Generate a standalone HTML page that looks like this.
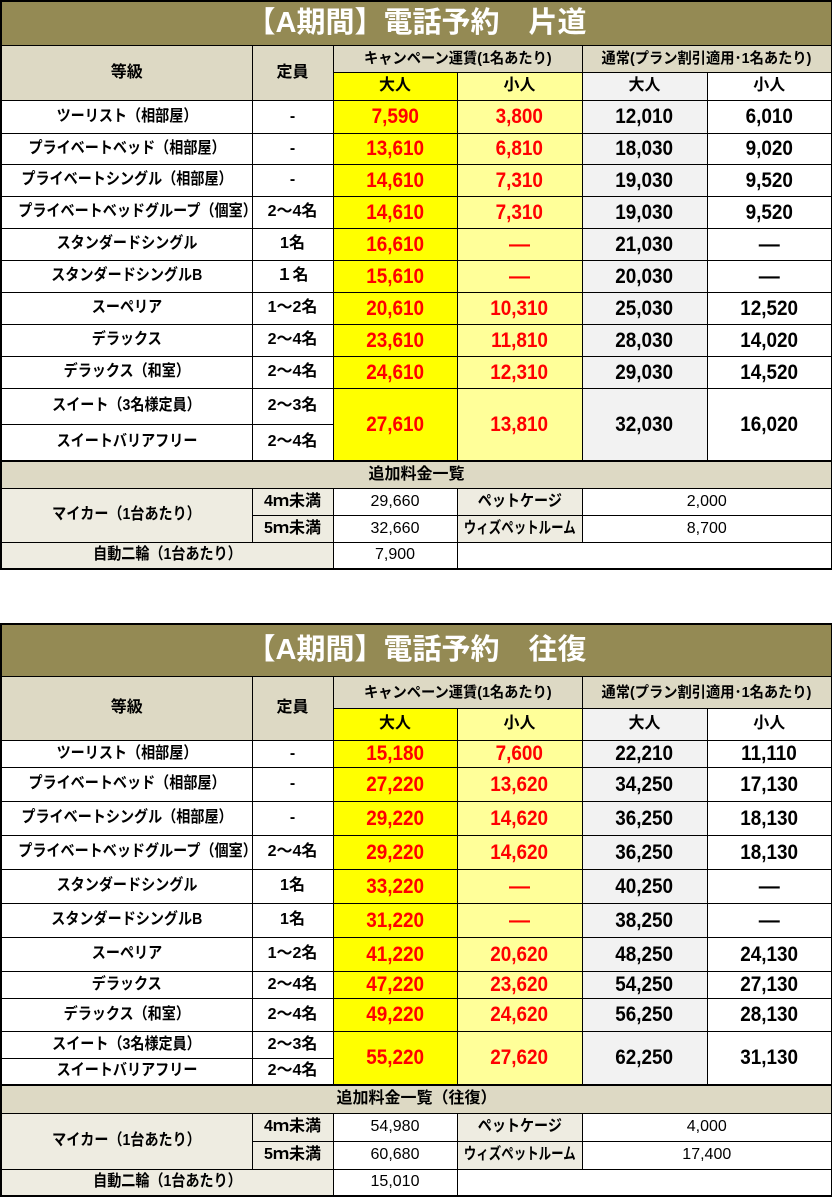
<!DOCTYPE html>
<html><head><meta charset="utf-8">
<style>
body{margin:0;width:832px;height:1196px;background:#fff;position:relative;overflow:hidden;font-family:"Liberation Sans","Noto Sans CJK JP",sans-serif;color:#000}
table{position:absolute;left:0;border-collapse:collapse;table-layout:fixed;width:831px}
td{padding:0;border:1px solid #000;text-align:center;vertical-align:middle;font-size:16px;font-weight:bold;line-height:1;white-space:nowrap;overflow:hidden}
.t{background:#948a54;color:#fff;font-size:29px;border:2px solid #000;border-bottom:1px solid #000}
.h{background:#ddd9c4}
.y{background:#ffff00}
.ly{background:#ffff99}
.g{background:#f2f2f2}
.e{background:#eeece1}
.n{font-size:21px;font-weight:bold}
.n span{display:inline-block;transform:scaleX(.9)}
.r{color:#f00}
.d{border-right:1px dashed #000}
.s{display:inline-block;transform:scaleX(.88);transform-origin:center}
.w{display:inline-block;transform:scaleX(.78);transform-origin:center;margin:0 -20px}
.small{font-size:16px;font-weight:normal}
.sh{font-size:15px}
.sx{display:inline-block;transform:scaleX(.95)}
table{border:2px solid #000}
</style></head><body>

<table style="top:0">
<colgroup><col style="width:251px"><col style="width:81px"><col style="width:124px"><col style="width:125px"><col style="width:125px"><col style="width:125px"></colgroup>
<tr style="height:44px"><td colspan="6" class="t">【A期間】電話予約　片道</td></tr>
<tr style="height:27px"><td rowspan="2" class="h">等級</td><td rowspan="2" class="h">定員</td><td colspan="2" class="h sh"><span class="sx">キャンペーン運賃(1名あたり)</span></td><td colspan="2" class="h sh"><span class="sx">通常(プラン割引適用･1名あたり)</span></td></tr>
<tr style="height:28px"><td class="y">大人</td><td class="ly">小人</td><td class="g">大人</td><td>小人</td></tr>
<tr style="height:33px"><td class="d"><span class="s">ツーリスト（相部屋）</span></td><td class="d">-</td><td class="y n r"><span>7,590</span></td><td class="ly n r"><span>3,800</span></td><td class="g n"><span>12,010</span></td><td class="n"><span>6,010</span></td></tr>
<tr style="height:31px"><td class="d"><span class="s">プライベートベッド（相部屋）</span></td><td class="d">-</td><td class="y n r"><span>13,610</span></td><td class="ly n r"><span>6,810</span></td><td class="g n"><span>18,030</span></td><td class="n"><span>9,020</span></td></tr>
<tr style="height:32px"><td class="d"><span class="s">プライベートシングル（相部屋）</span></td><td class="d">-</td><td class="y n r"><span>14,610</span></td><td class="ly n r"><span>7,310</span></td><td class="g n"><span>19,030</span></td><td class="n"><span>9,520</span></td></tr>
<tr style="height:32px"><td class="d"><span class="s">プライベートベッドグループ（個室）</span></td><td class="d">2～4名</td><td class="y n r"><span>14,610</span></td><td class="ly n r"><span>7,310</span></td><td class="g n"><span>19,030</span></td><td class="n"><span>9,520</span></td></tr>
<tr style="height:32px"><td class="d"><span class="s">スタンダードシングル</span></td><td class="d">1名</td><td class="y n r"><span>16,610</span></td><td class="ly n r">―</td><td class="g n"><span>21,030</span></td><td class="n">―</td></tr>
<tr style="height:32px"><td class="d"><span class="s">スタンダードシングルB</span></td><td class="d">１名</td><td class="y n r"><span>15,610</span></td><td class="ly n r">―</td><td class="g n"><span>20,030</span></td><td class="n">―</td></tr>
<tr style="height:32px"><td class="d"><span class="s">スーペリア</span></td><td class="d">1～2名</td><td class="y n r"><span>20,610</span></td><td class="ly n r"><span>10,310</span></td><td class="g n"><span>25,030</span></td><td class="n"><span>12,520</span></td></tr>
<tr style="height:32px"><td class="d"><span class="s">デラックス</span></td><td class="d">2～4名</td><td class="y n r"><span>23,610</span></td><td class="ly n r"><span>11,810</span></td><td class="g n"><span>28,030</span></td><td class="n"><span>14,020</span></td></tr>
<tr style="height:32px"><td class="d"><span class="s">デラックス（和室）</span></td><td class="d">2～4名</td><td class="y n r"><span>24,610</span></td><td class="ly n r"><span>12,310</span></td><td class="g n"><span>29,030</span></td><td class="n"><span>14,520</span></td></tr>
<tr style="height:36px"><td class="d"><span class="s">スイート（3名様定員）</span></td><td class="d">2～3名</td><td rowspan="2" class="y n r"><span>27,610</span></td><td rowspan="2" class="ly n r"><span>13,810</span></td><td rowspan="2" class="g n"><span>32,030</span></td><td rowspan="2" class="n"><span>16,020</span></td></tr>
<tr style="height:37px"><td class="d"><span class="s">スイートバリアフリー</span></td><td class="d">2～4名</td></tr>
<tr style="height:27px"><td colspan="6" class="h" style="border-top:2px solid #000">追加料金一覧</td></tr>
<tr style="height:27px"><td rowspan="2" class="e"><span class="s">マイカー（1台あたり）</span></td><td class="e">4ｍ未満</td><td class="small">29,660</td><td class="e"><span class="s">ペットケージ</span></td><td colspan="2" class="small">2,000</td></tr>
<tr style="height:27px"><td class="e">5ｍ未満</td><td class="small">32,660</td><td class="e"><span class="w">ウィズペットルーム</span></td><td colspan="2" class="small">8,700</td></tr>
<tr style="height:27px"><td colspan="2" class="e"><span class="s">自動二輪（1台あたり）</span></td><td class="small">7,900</td><td colspan="3"></td></tr>
</table>

<table style="top:623px">
<colgroup><col style="width:251px"><col style="width:81px"><col style="width:124px"><col style="width:125px"><col style="width:125px"><col style="width:125px"></colgroup>
<tr style="height:52px"><td colspan="6" class="t">【A期間】電話予約　往復</td></tr>
<tr style="height:32px"><td rowspan="2" class="h">等級</td><td rowspan="2" class="h">定員</td><td colspan="2" class="h sh"><span class="sx">キャンペーン運賃(1名あたり)</span></td><td colspan="2" class="h sh"><span class="sx">通常(プラン割引適用･1名あたり)</span></td></tr>
<tr style="height:32px"><td class="y">大人</td><td class="ly">小人</td><td class="g">大人</td><td>小人</td></tr>
<tr style="height:27px"><td><span class="s">ツーリスト（相部屋）</span></td><td>-</td><td class="y n r"><span>15,180</span></td><td class="ly n r"><span>7,600</span></td><td class="g n"><span>22,210</span></td><td class="n"><span>11,110</span></td></tr>
<tr style="height:34px"><td><span class="s">プライベートベッド（相部屋）</span></td><td>-</td><td class="y n r"><span>27,220</span></td><td class="ly n r"><span>13,620</span></td><td class="g n"><span>34,250</span></td><td class="n"><span>17,130</span></td></tr>
<tr style="height:34px"><td><span class="s">プライベートシングル（相部屋）</span></td><td>-</td><td class="y n r"><span>29,220</span></td><td class="ly n r"><span>14,620</span></td><td class="g n"><span>36,250</span></td><td class="n"><span>18,130</span></td></tr>
<tr style="height:34px"><td><span class="s">プライベートベッドグループ（個室）</span></td><td>2～4名</td><td class="y n r"><span>29,220</span></td><td class="ly n r"><span>14,620</span></td><td class="g n"><span>36,250</span></td><td class="n"><span>18,130</span></td></tr>
<tr style="height:34px"><td><span class="s">スタンダードシングル</span></td><td>1名</td><td class="y n r"><span>33,220</span></td><td class="ly n r">―</td><td class="g n"><span>40,250</span></td><td class="n">―</td></tr>
<tr style="height:34px"><td><span class="s">スタンダードシングルB</span></td><td>1名</td><td class="y n r"><span>31,220</span></td><td class="ly n r">―</td><td class="g n"><span>38,250</span></td><td class="n">―</td></tr>
<tr style="height:34px"><td><span class="s">スーペリア</span></td><td>1～2名</td><td class="y n r"><span>41,220</span></td><td class="ly n r"><span>20,620</span></td><td class="g n"><span>48,250</span></td><td class="n"><span>24,130</span></td></tr>
<tr style="height:27px"><td><span class="s">デラックス</span></td><td>2～4名</td><td class="y n r"><span>47,220</span></td><td class="ly n r"><span>23,620</span></td><td class="g n"><span>54,250</span></td><td class="n"><span>27,130</span></td></tr>
<tr style="height:33px"><td><span class="s">デラックス（和室）</span></td><td>2～4名</td><td class="y n r"><span>49,220</span></td><td class="ly n r"><span>24,620</span></td><td class="g n"><span>56,250</span></td><td class="n"><span>28,130</span></td></tr>
<tr style="height:27px"><td><span class="s">スイート（3名様定員）</span></td><td>2～3名</td><td rowspan="2" class="y n r"><span>55,220</span></td><td rowspan="2" class="ly n r"><span>27,620</span></td><td rowspan="2" class="g n"><span>62,250</span></td><td rowspan="2" class="n"><span>31,130</span></td></tr>
<tr style="height:27px"><td><span class="s">スイートバリアフリー</span></td><td>2～4名</td></tr>
<tr style="height:28px"><td colspan="6" class="h" style="border-top:2px solid #000">追加料金一覧（往復）</td></tr>
<tr style="height:28px"><td rowspan="2" class="e"><span class="s">マイカー（1台あたり）</span></td><td class="e">4ｍ未満</td><td class="small">54,980</td><td class="e"><span class="s">ペットケージ</span></td><td colspan="2" class="small">4,000</td></tr>
<tr style="height:28px"><td class="e">5ｍ未満</td><td class="small">60,680</td><td class="e"><span class="w">ウィズペットルーム</span></td><td colspan="2" class="small">17,400</td></tr>
<tr style="height:27px"><td colspan="2" class="e"><span class="s">自動二輪（1台あたり）</span></td><td class="small">15,010</td><td colspan="3"></td></tr>
</table>
</body></html>
